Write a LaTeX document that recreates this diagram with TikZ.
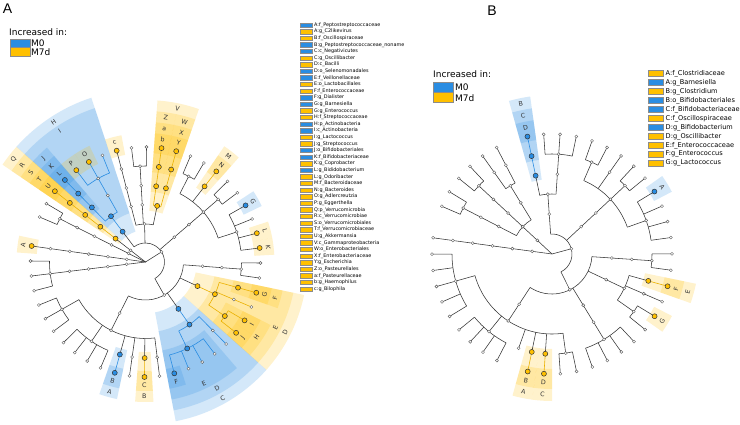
\documentclass[tikz,border=0pt]{standalone}
\usepackage{fontspec}
\setmainfont{DejaVu Sans}
\newfontfamily\panelfont{Liberation Sans}
\definecolor{cb}{HTML}{2A8DE2}
\definecolor{co}{HTML}{FFC000}
\definecolor{ln}{HTML}{333333}
\tikzset{
 lk/.style={draw=ln, line width=0.55pt},
 lb/.style={draw=cb, line width=0.6pt},
 lo/.style={draw=co!92!black, line width=0.6pt},
 wdot/.style={fill=white, draw=ln!80, line width=0.4pt},
 cdot/.style={draw=ln, line width=0.5pt},
 clab/.style={font=\fontsize{6.3}{7}\selectfont, text=ln, inner sep=0pt},
 legA/.style={font=\fontsize{4.9}{5.5}\selectfont, anchor=west, inner sep=0pt},
 legB/.style={font=\fontsize{6.6}{7.5}\selectfont, anchor=west, inner sep=0pt},
 incr/.style={font=\fontsize{9}{10}\selectfont, anchor=west, inner sep=0pt},
 sw/.style={draw=black!45, line width=0.4pt},
 plab/.style={font=\panelfont\fontsize{14}{16}\selectfont, inner sep=0pt},
}
\newcounter{clc}
\newcommand\tarc[4][lk]{\draw[#1] (#3:#2pt) arc[start angle=#3,end angle=#4,radius=#2pt];}
\newcommand\trad[4][lk]{\draw[#1] (#2:#3pt) -- (#2:#4pt);}
\newcommand\wdt[2]{\filldraw[wdot] (#1:#2pt) circle[radius=1.5pt];}
\newcommand\cdt[3]{\filldraw[cdot,fill=#1] (#2:#3pt) circle[radius=2.5pt];}
\newcommand\csect[5]{\fill[#1,opacity=0.2] (#2:#4pt) arc[start angle=#2,end angle=#3,radius=#4pt] -- (#3:#5pt) arc[start angle=#3,end angle=#2,radius=#5pt] -- cycle;}
\newcommand\clabel[3]{\stepcounter{clc}\pgfmathsetmacro\clrot{(#1>=0)?(#1-90):(#1+90)}\node[clab,rotate=\clrot] (cl\theclc) at (#1:#2pt) {#3};}
\begin{document}
\begin{tikzpicture}
\fill[white] (0,0) rectangle (740pt,-424pt);
\useasboundingbox (0,0) rectangle (740pt,-424pt);

% ---------------- panel labels and legends
\node[plab] (pA) at (7.5pt,-8.5pt) {A};
\node[plab] (pB) at (492pt,-11pt) {B};

\node[incr] (incA) at (9pt,-32pt) {Increased in:};
\filldraw[sw,fill=cb] (10pt,-39pt) rectangle (30pt,-47.5pt);
\filldraw[sw,fill=co] (10pt,-47.5pt) rectangle (30pt,-56pt);
\node[incr] (m0A) at (31pt,-43.5pt) {M0};
\node[incr] (m7A) at (31pt,-52pt) {M7d};

\node[incr] (incB) at (433pt,-74pt) {Increased in:};
\filldraw[sw,fill=cb] (433pt,-82.3pt) rectangle (453pt,-92.5pt);
\filldraw[sw,fill=co] (433pt,-92.5pt) rectangle (453pt,-102.3pt);
\node[incr] (m0B) at (455pt,-87.3pt) {M0};
\node[incr] (m7B) at (455pt,-98.3pt) {M7d};

\foreach \colr/\txt [count=\i from 0] in {cb/A:f\_Peptostreptococcaceae, co/A:g\_C2likevirus, co/B:f\_Oscillospiraceae, cb/B:g\_Peptostreptococcaceae\_noname, cb/C:c\_Negativicutes, co/C:g\_Oscillibacter, co/D:c\_Bacilli, cb/D:o\_Selenomonadales, cb/E:f\_Veillonellaceae, co/E:o\_Lactobacillales, co/F:f\_Enterococcaceae, cb/F:g\_Dialister, cb/G:g\_Barnesiella, co/G:g\_Enterococcus, co/H:f\_Streptococcaceae, cb/H:p\_Actinobacteria, cb/I:c\_Actinobacteria, co/I:g\_Lactococcus, co/J:g\_Streptococcus, cb/J:o\_Bifidobacteriales, cb/K:f\_Bifidobacteriaceae, co/K:g\_Coprobacter, cb/L:g\_Bididobacterium, co/L:g\_Odoribacter, co/M:f\_Bacteroidaceae, co/N:g\_Bacteroides, co/O:g\_Adlercreutzia, co/P:g\_Eggerthella, co/Q:p\_Verrucomicrobia, co/R:c\_Verrucomicrobiae, co/S:o\_Verrucomicrobiales, co/T:f\_Verrucomicrobiaceae, co/U:g\_Akkermansia, co/V:c\_Gammaproteobacteria, co/W:o\_Enterobacteriales, co/X:f\_Enterobacteriaceae, co/Y:g\_Escherichia, co/Z:o\_Pasteurellales, co/a:f\_Pasteurellaceae, co/b:g\_Haemophilus, co/c:g\_Bilophila} {
  \pgfmathsetmacro\yy{-25-6.6*\i}
  \pgfmathsetmacro\ya{\yy-2.2}
  \pgfmathsetmacro\yb{\yy+2.2}
  \filldraw[sw,fill=\colr] (300pt,\ya pt) rectangle (312pt,\yb pt);
  \node[legA] (la\i) at (314pt,\yy pt) {\txt};
}

\foreach \colr/\txt [count=\i from 0] in {co/A:f\_Clostridiaceae, cb/A:g\_Barnesiella, co/B:g\_Clostridium, cb/B:o\_Bifidobacteriales, cb/C:f\_Bifidobacteriaceae, co/C:f\_Oscillospiraceae, cb/D:g\_Bifidobacterium, co/D:g\_Oscillibacter, co/E:f\_Enterococcaceae, co/F:g\_Enterococcus, co/G:g\_Lactococcus} {
  \pgfmathsetmacro\yy{-73.3-9*\i}
  \pgfmathsetmacro\ya{\yy-2.9}
  \pgfmathsetmacro\yb{\yy+2.9}
  \filldraw[sw,fill=\colr] (647.7pt,\ya pt) rectangle (662.7pt,\yb pt);
  \node[legB] (lb\i) at (665.5pt,\yy pt) {\txt};
}

% ================= PANEL A =================
\begin{scope}[shift={(145.5pt,-262pt)}]
% sectors
\csect{cb}{108.25}{138.25}{32}{173}
\csect{cb}{108.25}{138.25}{51.3}{162}
\csect{cb}{130.75}{138.25}{70.5}{151}
\csect{cb}{130.75}{138.25}{90}{140}
\csect{cb}{130.75}{138.25}{109}{129}
\csect{co}{115.75}{123.25}{109}{129}
\csect{co}{123.25}{130.75}{109}{129}
\csect{co}{138.25}{145.75}{32}{173}
\csect{co}{138.25}{145.75}{51.3}{162}
\csect{co}{138.25}{145.75}{70.5}{151}
\csect{co}{138.25}{145.75}{90}{140}
\csect{co}{138.25}{145.75}{109}{129}
\csect{co}{100.75}{108.25}{109}{129}
\csect{co}{70.75}{85.75}{51.3}{162}
\csect{co}{70.75}{78.25}{70.5}{151}
\csect{co}{70.75}{78.25}{90}{140}
\csect{co}{70.75}{78.25}{109}{129}
\csect{co}{78.25}{85.75}{70.5}{151}
\csect{co}{78.25}{85.75}{90}{140}
\csect{co}{78.25}{85.75}{109}{129}
\csect{co}{48.25}{55.75}{90}{140}
\csect{co}{48.25}{55.75}{109}{129}
\csect{cb}{25.75}{33.25}{109}{129}
\csect{co}{10.75}{18.25}{109}{129}
\csect{co}{3.25}{10.75}{109}{129}
\csect{co}{-41.75}{-11.75}{51.3}{162}
\csect{co}{-41.75}{-11.75}{70.5}{151}
\csect{co}{-19.25}{-11.75}{90}{140}
\csect{co}{-19.25}{-11.75}{109}{129}
\csect{co}{-41.75}{-26.75}{90}{140}
\csect{co}{-34.25}{-26.75}{109}{129}
\csect{co}{-41.75}{-34.25}{109}{129}
\csect{cb}{-79.25}{-41.75}{51.3}{162}
\csect{cb}{-79.25}{-41.75}{70.5}{151}
\csect{cb}{-79.25}{-49.25}{90}{140}
\csect{cb}{-79.25}{-71.75}{109}{129}
\csect{co}{-94.25}{-86.75}{90}{140}
\csect{co}{-94.25}{-86.75}{109}{129}
\csect{cb}{-109.25}{-101.75}{90}{140}
\csect{cb}{-109.25}{-101.75}{109}{129}
\csect{co}{168.25}{175.75}{109}{129}
% edges
\trad{32.25}{0}{19}
\tarc{19}{-60.5}{127}
\trad{-60.5}{19}{38} \trad{40.75}{19}{38} \trad{91.4}{19}{38} \trad{127}{19}{38}
\trad{142}{0}{38} \trad[lo]{142}{38}{115}
\trad{153.25}{0}{96} \tarc{96}{149.5}{157} \trad{149.5}{96}{115} \trad{157}{96}{115}
\trad{172}{0}{115}
\trad{-173}{0}{96} \tarc{96}{-180.5}{-165.5} \trad{-165.5}{96}{115} \trad{-173}{96}{115} \trad{-180.5}{96}{115}
% Firmicutes
\tarc{38}{-116.75}{-4.25}
\trad{-4.25}{38}{96} \tarc{96}{-8}{-0.5} \trad{-0.5}{96}{115} \trad{-8}{96}{115}
\trad{-24.875}{38}{57.3}
\trad[lo]{-24.875}{57.3}{76.5} \tarc[lo]{76.5}{-34.25}{-15.5}
\trad[lo]{-15.5}{76.5}{115} \trad[lo]{-23}{76.5}{115} \trad[lo]{-34.25}{76.5}{96}
\tarc[lo]{96}{-38}{-30.5} \trad[lo]{-30.5}{96}{115} \trad[lo]{-38}{96}{115}
\trad{-54.9}{38}{57.3}
\trad[lb]{-54.9}{57.3}{76.5} \tarc[lb]{76.5}{-64.25}{-45.5}
\trad[lb]{-45.5}{76.5}{115} \trad[lb]{-64.25}{76.5}{96} \tarc[lb]{96}{-75.5}{-53}
\foreach \a in {-53,-60.5,-68,-75.5} {\trad[lb]{\a}{96}{115}}
\trad{-116.75}{38}{76.5} \tarc{76.5}{-150.5}{-83}
\trad{-83}{76.5}{115} \trad{-90.5}{76.5}{96} \trad[lo]{-90.5}{96}{115}
\trad{-98}{76.5}{115} \trad{-105.5}{76.5}{96} \trad[lb]{-105.5}{96}{115}
\trad{-124.25}{76.5}{96} \tarc{96}{-135.5}{-113}
\foreach \a in {-113,-120.5,-128,-135.5} {\trad{\a}{96}{115}}
\trad{-150.5}{76.5}{96} \tarc{96}{-158}{-143}
\foreach \a in {-143,-150.5,-158} {\trad{\a}{96}{115}}
% Bacteroidetes
\trad{40.75}{38}{76.5} \tarc{76.5}{18.25}{63.25}
\trad{18.25}{76.5}{96} \tarc{96}{7}{29.5}
\foreach \a in {7,14.5,22,29.5} {\trad{\a}{96}{115}}
\trad{40.75}{76.5}{96} \tarc{96}{37}{44.5} \trad{37}{96}{115} \trad{44.5}{96}{115}
\trad{52}{76.5}{96} \trad[lo]{52}{96}{115}
\trad{63.25}{76.5}{96} \tarc{96}{59.5}{67} \trad{59.5}{96}{115} \trad{67}{96}{115}
% Proteobacteria
\tarc{38}{78.25}{104.5}
\trad{78.25}{38}{57.3} \tarc[lo]{57.3}{74.5}{82} \trad[lo]{74.5}{57.3}{115} \trad[lo]{82}{57.3}{115}
\trad{93.25}{38}{96} \tarc{96}{89.5}{97} \trad{89.5}{96}{115} \trad{97}{96}{115}
\trad{104.5}{38}{115}
% Actinobacteria
\trad[lb]{127}{38}{57.3} \tarc[lb]{57.3}{119.5}{134.5} \trad[lb]{134.5}{57.3}{115}
\trad[lb]{119.5}{57.3}{96} \tarc[lb]{96}{112}{127}
\foreach \a in {112,119.5,127} {\trad[lb]{\a}{96}{115}}
% dots
\foreach \a in {32.25,142,153.25,172,-173} {\wdt{\a}{19}}
\foreach \a in {-60.5,40.75,91.4,153.25,172,-173} {\wdt{\a}{38}}
\cdt{cb}{127}{38} \cdt{co}{142}{38}
\foreach \a in {-4.25,-116.75,40.75,93.25,104.5,153.25,172,-173} {\wdt{\a}{57.3}}
\foreach \a in {-24.875,78.25,142} {\cdt{co}{\a}{57.3}}
\foreach \a in {-54.9,127} {\cdt{cb}{\a}{57.3}}
\foreach \a in {-4.25,-116.75,40.75,93.25,104.5,119.5,153.25,172,-173} {\wdt{\a}{76.5}}
\foreach \a in {-24.875,74.5,82,142} {\cdt{co}{\a}{76.5}}
\foreach \a in {-54.9,134.5} {\cdt{cb}{\a}{76.5}}
\foreach \a in {-4.25,-23,-45.5,-83,-98,-124.25,-150.5,18.25,40.75,63.25,93.25,104.5,119.5,153.25,172,-173} {\wdt{\a}{96}}
\foreach \a in {-15.5,-34.25,-90.5,52,74.5,82,142} {\cdt{co}{\a}{96}}
\foreach \a in {-64.25,-105.5,134.5} {\cdt{cb}{\a}{96}}
\foreach \a in {-0.5,-8,-23,-45.5,-53,-60.5,-68,-83,-98,-113,-120.5,-128,-135.5,-143,-150.5,-158,22,37,44.5,59.5,67,89.5,97,112,149.5,157,-165.5,-173,179.5} {\wdt{\a}{115}}
\foreach \a in {-15.5,-30.5,-38,-90.5,7,14.5,52,74.5,82,104.5,119.5,127,142,172} {\cdt{co}{\a}{115}}
\foreach \a in {-75.5,-105.5,29.5,134.5} {\cdt{cb}{\a}{115}}
% labels
\clabel{123.25}{167.5}{H} \clabel{123.25}{156.5}{I} \clabel{134.5}{145.5}{J} \clabel{134.5}{134.5}{K} \clabel{134.5}{123.5}{L}
\clabel{119.5}{123.5}{O} \clabel{127}{123.5}{P}
\clabel{142}{167.5}{Q} \clabel{142}{156.5}{R} \clabel{142}{145.5}{S} \clabel{142}{134.5}{T} \clabel{142}{123.5}{U}
\clabel{104.5}{123.5}{c}
\clabel{78.25}{156.5}{V} \clabel{74.5}{145.5}{W} \clabel{74.5}{134.5}{X} \clabel{74.5}{123.5}{Y}
\clabel{82}{145.5}{Z} \clabel{82}{134.5}{a} \clabel{82}{123.5}{b}
\clabel{52}{134.5}{M} \clabel{52}{123.5}{N}
\clabel{29.5}{123.5}{G} \clabel{14.5}{123.5}{L} \clabel{7}{123.5}{K}
\clabel{-26.75}{156.5}{D} \clabel{-26.75}{145.5}{E} \clabel{-15.5}{134.5}{F} \clabel{-15.5}{123.5}{G}
\clabel{-34.25}{134.5}{H} \clabel{-30.5}{123.5}{I} \clabel{-38}{123.5}{J}
\clabel{-60.5}{156.5}{C} \clabel{-60.5}{145.5}{D} \clabel{-64.25}{134.5}{E} \clabel{-75.5}{123.5}{F}
\clabel{-90.5}{134.5}{B} \clabel{-90.5}{123.5}{C}
\clabel{-105.5}{134.5}{A} \clabel{-105.5}{123.5}{B}
\clabel{172}{123.5}{A}
\end{scope}

% ================= PANEL B =================
\begin{scope}[shift={(552pt,-254pt)}]
\csect{cb}{97.89}{105.71}{75}{159}
\csect{cb}{97.89}{105.71}{95}{147}
\csect{cb}{97.89}{105.71}{115}{135}
\csect{cb}{27.46}{35.28}{115}{135}
\csect{co}{-105.59}{-97.77}{95}{147}
\csect{co}{-105.59}{-97.77}{115}{135}
\csect{co}{-97.76}{-89.94}{95}{147}
\csect{co}{-97.76}{-89.94}{115}{135}
\csect{co}{-19.5}{-11.68}{95}{147}
\csect{co}{-19.5}{-11.68}{115}{135}
\csect{co}{-35.15}{-27.33}{115}{135}
% edges
\trad{15.22}{0}{20} \tarc{20}{-63.53}{93.97}
\trad{-63.53}{20}{40} \trad{43.1}{20}{40} \trad{93.97}{20}{40}
\trad{93.97}{40}{60} \tarc{60}{86.15}{101.8} \trad{101.8}{60}{80} \trad[lb]{101.8}{80}{120}
\trad{86.15}{60}{100} \tarc{100}{78.32}{93.97}
\foreach \a in {78.32,86.15,93.97} {\trad{\a}{100}{120}}
\trad{43.1}{40}{80} \tarc{80}{19.6}{66.6}
\trad{66.6}{80}{100} \tarc{100}{62.67}{70.5} \trad{62.67}{100}{120} \trad{70.5}{100}{120}
\trad{54.84}{80}{120}
\trad{43.1}{80}{100} \tarc{100}{39.19}{47.02} \trad{39.19}{100}{120} \trad{47.02}{100}{120}
\trad{19.6}{80}{100} \tarc{100}{7.89}{31.37}
\foreach \a in {7.89,15.71,23.54,31.37} {\trad{\a}{100}{120}}
\tarc{40}{-123.2}{-3.85}
\trad{-3.85}{40}{100} \tarc{100}{-7.76}{0.06} \trad{0.06}{100}{120} \trad{-7.76}{100}{120}
\trad{-25.375}{40}{80} \tarc{80}{-35.16}{-15.59}
\trad{-15.59}{80}{100} \trad[lo]{-15.59}{100}{120}
\trad{-23.42}{80}{120}
\trad{-35.16}{80}{100} \tarc{100}{-39.07}{-31.24} \trad{-31.24}{100}{120} \trad{-39.07}{100}{120}
\trad{-58.63}{40}{100} \tarc{100}{-70.37}{-46.89}
\foreach \a in {-46.89,-54.72,-62.55,-70.37} {\trad{\a}{100}{120}}
\trad{-123.2}{40}{80} \tarc{80}{-164.29}{-82.11}
\trad{-82.11}{80}{100} \tarc{100}{-86.02}{-78.2} \trad{-78.2}{100}{120} \trad{-86.02}{100}{120}
\trad{-93.85}{80}{100} \trad[lo]{-93.85}{100}{120}
\trad{-101.68}{80}{100} \trad[lo]{-101.68}{100}{120}
\trad{-109.5}{80}{100}
\trad{-129.07}{80}{100} \tarc{100}{-140.81}{-117.33}
\foreach \a in {-117.33,-125.15,-132.98,-140.81} {\trad{\a}{100}{120}}
\trad{-164.29}{80}{100} \tarc{100}{-179.94}{-148.63}
\foreach \a in {-148.63,-156.46,-164.28,-172.11,-179.94} {\trad{\a}{100}{120}}
\trad{137.02}{0}{40} \tarc{40}{121.37}{152.67}
\trad{121.37}{40}{80} \tarc{80}{117.46}{125.28} \trad{117.46}{80}{120} \trad{125.28}{80}{120}
\trad{137.02}{40}{100} \tarc{100}{133.11}{140.93} \trad{133.11}{100}{120} \trad{140.93}{100}{120}
\trad{152.67}{40}{100} \tarc{100}{148.76}{156.59} \trad{148.76}{100}{120} \trad{156.59}{100}{120}
\trad{172.24}{0}{120}
% dots
\foreach \a in {15.22,137.02,172.24} {\wdt{\a}{20}}
\foreach \a in {93.97,43.1,-63.53,137.02,172.24} {\wdt{\a}{40}}
\foreach \a in {93.97,43.1,-3.85,-25.375,-58.63,-123.2,121.37,137.02,152.67,172.24} {\wdt{\a}{60}}
\foreach \a in {86.15,43.1,-3.85,-25.375,-58.63,-123.2,121.37,137.02,152.67,172.24} {\wdt{\a}{80}}
\cdt{cb}{101.8}{80}
\foreach \a in {86.15,66.6,54.84,43.1,19.6,-3.85,-23.42,-35.16,-58.63,-82.11,-109.5,-129.07,-164.29,117.46,125.28,137.02,152.67,172.24} {\wdt{\a}{100}}
\cdt{cb}{101.8}{100}
\foreach \a in {-15.59,-93.85,-101.68} {\cdt{co}{\a}{100}}
\foreach \a in {78.32,86.15,93.97,62.67,70.5,54.84,39.19,47.02,7.89,15.71,23.54,0.06,-7.76,-23.42,-39.07,-46.89,-54.72,-62.55,-70.37,-78.2,-86.02,-117.33,-125.15,-132.98,-140.81,-148.63,-156.46,-164.28,-172.11,-179.94,117.46,125.28,133.11,140.93,148.76,156.59,172.24} {\wdt{\a}{120}}
\foreach \a in {101.8,31.37} {\cdt{cb}{\a}{120}}
\foreach \a in {-15.59,-31.24,-93.85,-101.68} {\cdt{co}{\a}{120}}
% labels
\clabel{101.8}{153}{B} \clabel{101.8}{141}{C} \clabel{101.8}{129}{D}
\clabel{31.37}{129}{A}
\clabel{-101.68}{141}{A} \clabel{-101.68}{129}{B}
\clabel{-93.85}{141}{C} \clabel{-93.85}{129}{D}
\clabel{-15.59}{141}{E} \clabel{-15.59}{129}{F}
\clabel{-31.24}{129}{G}
\end{scope}
\end{tikzpicture}
\end{document}
